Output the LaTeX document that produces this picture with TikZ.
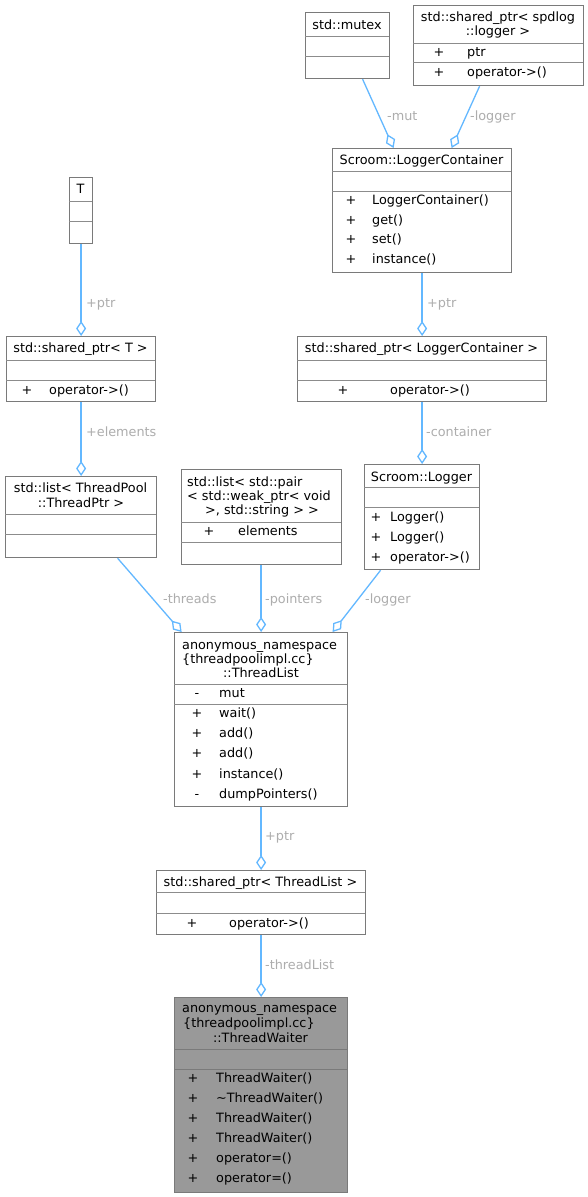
\documentclass[tikz,border=0pt]{standalone}
\usepackage{fontspec}
\setmainfont{DejaVu Sans}
\usetikzlibrary{arrows.meta}
\definecolor{boxgray}{HTML}{7A7A7A}
\definecolor{divgray}{HTML}{8C8C8C}
\definecolor{fillgray}{HTML}{999999}
\definecolor{edgeblue}{HTML}{63B8FF}
\definecolor{lblgray}{HTML}{ADADAD}
\tikzset{
  cls/.style={draw=boxgray, line width=1.2pt, fill=white, inner sep=0pt, anchor=north west},
  divider/.style={draw=divgray, line width=1pt},
  tx/.style={inner sep=0pt, text=black, yshift=-1.5pt},
  tl/.style={tx, anchor=mid west},
  tc/.style={tx, anchor=mid},
  lbl/.style={inner sep=0pt, text=lblgray, anchor=mid west, yshift=-1.5pt},
  edge/.style={draw=edgeblue, line width=1.3pt, -{Diamond[open, length=15pt, width=10pt]}}
}
\begin{document}
\begin{tikzpicture}[x=1pt, y=-1pt, font=\fontsize{12.8}{15}\selectfont]
\useasboundingbox (0,0) rectangle (588,1197);
\fill[white] (0,0) rectangle (588,1197);

% std::mutex
\node[cls, minimum width=84pt, minimum height=66pt] (mutex) at (305,12) {};
\draw[divider] (305,36) -- (389,36);
\draw[divider] (305,56) -- (389,56);
\node[tc] (mutex-t) at (347,25) {std::mutex};

% std::shared_ptr< spdlog::logger >
\node[cls, minimum width=170pt, minimum height=80pt] (spdlog) at (413,5) {};
\draw[divider] (413,43) -- (583,43);
\draw[divider] (413,62) -- (583,62);
\node[tc] (spdlog-t1) at (498,17) {std::shared\_ptr< spdlog};
\node[tc] (spdlog-t2) at (498,31) {::logger >};
\node[tc] (spdlog-p1) at (439,52) {+};
\node[tl] (spdlog-m1) at (467,52) {ptr};
\node[tc] (spdlog-p2) at (439,72) {+};
\node[tl] (spdlog-m2) at (467,72) {operator->()};

% Scroom::LoggerContainer
\node[cls, minimum width=179pt, minimum height=124pt] (lc) at (332,148) {};
\draw[divider] (332,171) -- (511,171);
\draw[divider] (332,191) -- (511,191);
\node[tc] (lc-t) at (421.5,160) {Scroom::LoggerContainer};
\node[tc] (lc-p1) at (351,200) {+};
\node[tl] (lc-m1) at (372,200) {LoggerContainer()};
\node[tc] (lc-p2) at (351,220) {+};
\node[tl] (lc-m2) at (372,220) {get()};
\node[tc] (lc-p3) at (351,239.5) {+};
\node[tl] (lc-m3) at (372,239.5) {set()};
\node[tc] (lc-p4) at (351,259) {+};
\node[tl] (lc-m4) at (372,259) {instance()};

% T
\node[cls, minimum width=23pt, minimum height=66pt] (T) at (69,177) {};
\draw[divider] (69,201) -- (92,201);
\draw[divider] (69,221) -- (92,221);
\node[tc] (T-t) at (80.5,189) {T};

% std::shared_ptr< T >
\node[cls, minimum width=149pt, minimum height=65pt] (sptrT) at (6,336) {};
\draw[divider] (6,360) -- (155,360);
\draw[divider] (6,380) -- (155,380);
\node[tc] (sptrT-t) at (80.5,348) {std::shared\_ptr< T >};
\node[tc] (sptrT-p1) at (27,390) {+};
\node[tl] (sptrT-m1) at (49,390) {operator->()};

% std::list< ThreadPool::ThreadPtr >
\node[cls, minimum width=151pt, minimum height=81pt] (listTP) at (5,476) {};
\draw[divider] (5,514) -- (156,514);
\draw[divider] (5,534) -- (156,534);
\node[tc] (listTP-t1) at (80.5,488) {std::list< ThreadPool};
\node[tc] (listTP-t2) at (81,503) {::ThreadPtr >};

% std::list< std::pair< std::weak_ptr< void >, std::string > >
\node[cls, minimum width=160pt, minimum height=95pt] (pair) at (181,469) {};
\draw[divider] (181,522) -- (341,522);
\draw[divider] (181,542) -- (341,542);
\node[tl] (pair-t1) at (187,482) {std::list< std::pair};
\node[tl] (pair-t2) at (187,496) {< std::weak\_ptr< void};
\node[tc] (pair-t3) at (262,510) {>, std::string > >};
\node[tc] (pair-p1) at (209,531) {+};
\node[tl] (pair-m1) at (238,531) {elements};

% std::shared_ptr< LoggerContainer >
\node[cls, minimum width=249pt, minimum height=65pt] (sptrLC) at (297,336) {};
\draw[divider] (297,360) -- (546,360);
\draw[divider] (297,380) -- (546,380);
\node[tc] (sptrLC-t) at (421.5,348) {std::shared\_ptr< LoggerContainer >};
\node[tc] (sptrLC-p1) at (343,390) {+};
\node[tl] (sptrLC-m1) at (390,390) {operator->()};

% Scroom::Logger
\node[cls, minimum width=115pt, minimum height=105pt] (logger) at (364,464) {};
\draw[divider] (364,487) -- (479,487);
\draw[divider] (364,507) -- (479,507);
\node[tc] (logger-t) at (421.5,477) {Scroom::Logger};
\node[tc] (logger-p1) at (376,517) {+};
\node[tl] (logger-m1) at (390,517) {Logger()};
\node[tc] (logger-p2) at (376,537) {+};
\node[tl] (logger-m2) at (390,537) {Logger()};
\node[tc] (logger-p3) at (376,557) {+};
\node[tl] (logger-m3) at (390,557) {operator->()};

% ThreadList
\node[cls, minimum width=173pt, minimum height=174pt] (tlist) at (174,632) {};
\draw[divider] (174,684) -- (347,684);
\draw[divider] (174,704) -- (347,704);
\node[tl] (tlist-t1) at (182,645) {anonymous\_namespace};
\node[tl] (tlist-t2) at (182,659) {\{threadpoolimpl.cc\}};
\node[tc] (tlist-t3) at (261,673) {::ThreadList};
\node[tc] (tlist-a1) at (197,693) {-};
\node[tl] (tlist-f1) at (219,693) {mut};
\node[tc] (tlist-p1) at (197,713) {+};
\node[tl] (tlist-m1) at (219,713) {wait()};
\node[tc] (tlist-p2) at (197,733) {+};
\node[tl] (tlist-m2) at (219,733) {add()};
\node[tc] (tlist-p3) at (197,753) {+};
\node[tl] (tlist-m3) at (219,753) {add()};
\node[tc] (tlist-p4) at (197,774) {+};
\node[tl] (tlist-m4) at (219,774) {instance()};
\node[tc] (tlist-p5) at (197,794) {-};
\node[tl] (tlist-m5) at (219,794) {dumpPointers()};

% std::shared_ptr< ThreadList >
\node[cls, minimum width=209pt, minimum height=64pt] (sptrTL) at (156,870) {};
\draw[divider] (156,892) -- (365,892);
\draw[divider] (156,913) -- (365,913);
\node[tc] (sptrTL-t) at (260.5,882) {std::shared\_ptr< ThreadList >};
\node[tc] (sptrTL-p1) at (192,923) {+};
\node[tl] (sptrTL-m1) at (229,923) {operator->()};

% ThreadWaiter
\node[cls, fill=fillgray, minimum width=173pt, minimum height=195pt] (tw) at (174,997) {};
\draw[divider, draw=boxgray] (174,1049) -- (347,1049);
\draw[divider, draw=boxgray] (174,1069) -- (347,1069);
\node[tl] (tw-t1) at (182,1008) {anonymous\_namespace};
\node[tl] (tw-t2) at (183,1023) {\{threadpoolimpl.cc\}};
\node[tc] (tw-t3) at (260.5,1038) {::ThreadWaiter};
\node[tc] (tw-p1) at (193,1078) {+};
\node[tl] (tw-m1) at (216,1078) {ThreadWaiter()};
\node[tc] (tw-p2) at (193,1098) {+};
\node[tl] (tw-m2) at (216,1098) {\textasciitilde ThreadWaiter()};
\node[tc] (tw-p3) at (193,1118) {+};
\node[tl] (tw-m3) at (216,1118) {ThreadWaiter()};
\node[tc] (tw-p4) at (193,1138) {+};
\node[tl] (tw-m4) at (216,1138) {ThreadWaiter()};
\node[tc] (tw-p5) at (193,1158) {+};
\node[tl] (tw-m5) at (216,1158) {operator=()};
\node[tc] (tw-p6) at (193,1178) {+};
\node[tl] (tw-m6) at (216,1178) {operator=()};

% connectors
\draw[edge] ([xshift=15pt]mutex.south) -- ([xshift=-28.5pt]lc.north);
\draw[edge] ([xshift=-19pt]spdlog.south) -- ([xshift=29.5pt]lc.north);
\draw[edge] (T.south) -- (sptrT.north);
\draw[edge] (sptrT.south) -- (listTP.north);
\draw[edge] (lc.south) -- (sptrLC.north);
\draw[edge] (sptrLC.south) -- (logger.north);
\draw[edge] ([xshift=36.5pt]listTP.south) -- ([xshift=-79.5pt]tlist.north);
\draw[edge] ([xshift=-0.5pt]pair.south) -- (tlist.north);
\draw[edge] ([xshift=-41.5pt]logger.south) -- ([xshift=71.5pt]tlist.north);
\draw[edge] (tlist.south) -- (sptrTL.north);
\draw[edge] (sptrTL.south) -- (tw.north);

% connector labels
\node[lbl] (l-mut) at (387,116) {-mut};
\node[lbl] (l-logger1) at (470,116) {-logger};
\node[lbl] (l-ptr1) at (86,303) {+ptr};
\node[lbl] (l-elements) at (86,432) {+elements};
\node[lbl] (l-ptr2) at (427,303) {+ptr};
\node[lbl] (l-container) at (426,432) {-container};
\node[lbl] (l-threads) at (163,599) {-threads};
\node[lbl] (l-pointers) at (265,599) {-pointers};
\node[lbl] (l-logger2) at (365,599) {-logger};
\node[lbl] (l-ptr3) at (265,836) {+ptr};
\node[lbl] (l-threadlist) at (265,965) {-threadList};
\end{tikzpicture}
\end{document}
